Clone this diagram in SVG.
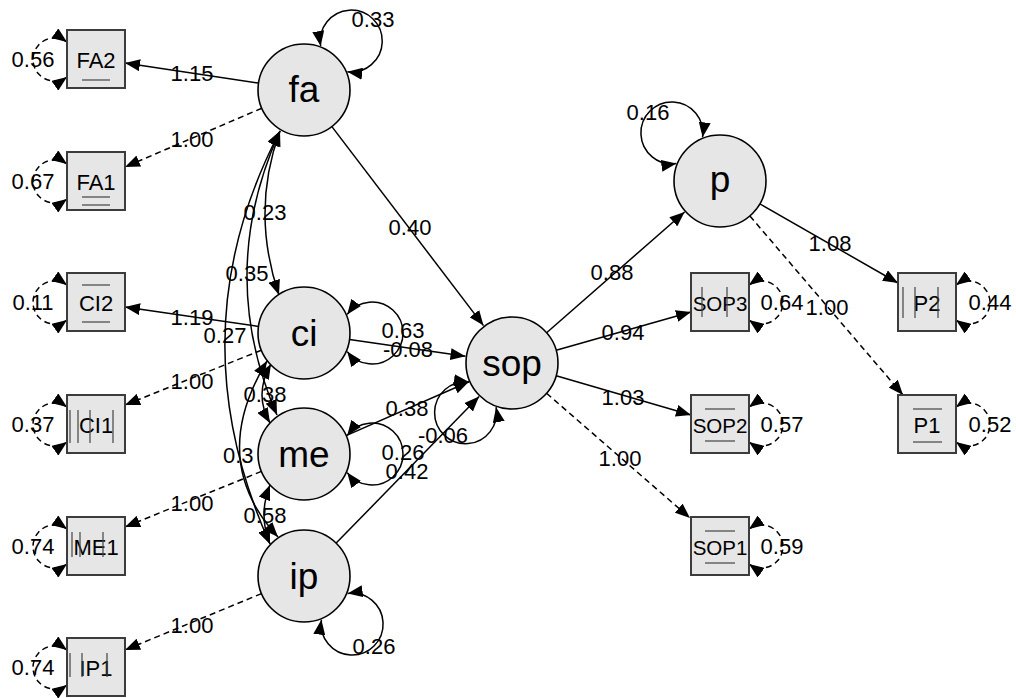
<svg xmlns="http://www.w3.org/2000/svg" width="1016" height="698" viewBox="0 0 1016 698">
  <defs>
    <marker id="ah" viewBox="0 0 15 12" refX="15" refY="6" markerWidth="15" markerHeight="12" markerUnits="userSpaceOnUse" orient="auto-start-reverse">
      <path d="M0,0 L15,6 L0,12 z" fill="#000"/>
    </marker>
    <style>
      .e { fill: none; stroke: #000; stroke-width: 1.5; marker-end: url(#ah); }
      .d { stroke-dasharray: 6 4; }
      .b { marker-start: url(#ah); }
      .lbl { font-family: "Liberation Sans", Arial, sans-serif; font-size: 22px; fill: #000; text-anchor: middle; }
      .lat circle { fill: #e6e6e6; stroke: #000; stroke-width: 1.6; }
      .lat text { font-family: "Liberation Sans", Arial, sans-serif; font-size: 37px; fill: #000; text-anchor: middle; }
      .man rect { fill: #e6e6e6; stroke: #3c3c3c; stroke-width: 2; }
      .man text { font-family: "Liberation Sans", Arial, sans-serif; font-size: 22px; fill: #000; text-anchor: middle; }
      .man text.s { font-size: 20.5px; }
      .man line { stroke: #444; stroke-width: 1.2; }
    </style>
  </defs>

  <rect width="1016" height="698" fill="#fff"/>

  <!-- connectors: loadings, regressions, covariances, variances -->
  <g id="connectors">
    <!-- loadings of the left-hand indicators -->
    <path class="e" d="M258.5 83.1 L125 63"/>
    <path class="e d" d="M261.8 108.2 L125 167"/>
    <path class="e" d="M258.5 326.4 L125 307"/>
    <path class="e d" d="M261.3 350.2 L125 405"/>
    <path class="e d" d="M261.4 471.4 L125 527"/>
    <path class="e d" d="M261.5 593.6 L125 650"/>

    <!-- structural paths into sop -->
    <path class="e" d="M331.9 126.6 L483.5 325.6"/>
    <path class="e" d="M349.5 339.6 L465.5 356.3"/>
    <path class="e" d="M346.1 435.6 L468.9 381.8"/>
    <path class="e" d="M336.2 543.1 L479.1 396.6"/>

    <!-- sop and p to their indicators -->
    <path class="e" d="M546.6 332.7 L684.6 212"/>
    <path class="e" d="M556.2 350.3 L691 312"/>
    <path class="e" d="M556.2 375.8 L691 415"/>
    <path class="e d" d="M546.6 393.3 L690 518"/>
    <path class="e" d="M759.9 203.9 L898 283"/>
    <path class="e d" d="M749.9 216 L903 395"/>

    <!-- covariances between exogenous factors -->
    <path class="e b" d="M280 131 Q250.5 211 279 295"/>
    <path class="e b" d="M280 131 Q215.5 273 277 415"/>
    <path class="e b" d="M280 131 Q175 332.5 270 544"/>
    <path class="e b" d="M271 364 Q253.5 394.5 270 423"/>
    <path class="e b" d="M267 361 Q207 460 278 537"/>
    <path class="e b" d="M270 485 Q258 515 270 544"/>

    <!-- latent variances -->
    <path class="e b" d="M320.65 46.05 A31 31 0 1 1 347.35 71.83"/>
    <path class="e b" d="M347.2 314.4 A31 31 0 1 1 347.2 351.6"/>
    <path class="e b" d="M347.2 435.4 A31 31 0 1 1 347.2 472.6"/>
    <path class="e b" d="M347.65 593.41 A31 31 0 1 1 321.41 619.65"/>
    <path class="e b" d="M676.35 163.59 A31 31 0 1 1 702.59 137.35"/>
    <path class="e b" d="M496.1 407.2 A31 31 0 1 1 469 381.9"/>

    <!-- residual variances, left indicators -->
    <path class="e b d" d="M67 42 A21.5 21.5 0 1 0 67 77"/>
    <path class="e b d" d="M67 164 A21.5 21.5 0 1 0 67 199"/>
    <path class="e b d" d="M67 285 A21.5 21.5 0 1 0 67 320"/>
    <path class="e b d" d="M67 407 A21.5 21.5 0 1 0 67 442"/>
    <path class="e b d" d="M67 529 A21.5 21.5 0 1 0 67 564"/>
    <path class="e b d" d="M67 650 A21.5 21.5 0 1 0 67 685"/>

    <!-- residual variances, right indicators -->
    <path class="e b d" d="M749 285 A21.5 21.5 0 1 1 749 320"/>
    <path class="e b d" d="M749 407 A21.5 21.5 0 1 1 749 442"/>
    <path class="e b d" d="M749 529 A21.5 21.5 0 1 1 749 564"/>
    <path class="e b d" d="M956 285 A21.5 21.5 0 1 1 956 320"/>
    <path class="e b d" d="M956 407 A21.5 21.5 0 1 1 956 442"/>
  </g>

  <!-- estimates -->
  <g id="edge-labels" class="lbl">
    <text x="373" y="27">0.33</text>
    <text x="192" y="81">1.15</text>
    <text x="192" y="147">1.00</text>
    <text x="192" y="325">1.19</text>
    <text x="192" y="389">1.00</text>
    <text x="192" y="511">1.00</text>
    <text x="192" y="633">1.00</text>

    <text x="265" y="220">0.23</text>
    <text x="247" y="281">0.35</text>
    <text x="225" y="343">0.27</text>
    <text x="265" y="402">0.38</text>
    <text x="223" y="463" style="text-anchor:start">0.3</text>
    <text x="265" y="523">0.58</text>

    <text x="410" y="235">0.40</text>
    <text x="403" y="338">0.63</text>
    <text x="408" y="357">-0.08</text>
    <text x="407" y="416">0.38</text>
    <text x="403" y="460">0.26</text>
    <text x="407" y="479">0.42</text>
    <text x="443" y="443">-0.06</text>
    <text x="374" y="654">0.26</text>

    <text x="648" y="120">0.16</text>
    <text x="612" y="280">0.88</text>
    <text x="623" y="340">0.94</text>
    <text x="623" y="405">1.03</text>
    <text x="620" y="466">1.00</text>
    <text x="830" y="251">1.08</text>
    <text x="827" y="315">1.00</text>

    <text x="33" y="67">0.56</text>
    <text x="33" y="189">0.67</text>
    <text x="33" y="310">0.11</text>
    <text x="33" y="432">0.37</text>
    <text x="33" y="554">0.74</text>
    <text x="33" y="675">0.74</text>

    <text x="782" y="310">0.64</text>
    <text x="782" y="432">0.57</text>
    <text x="782" y="554">0.59</text>
    <text x="990" y="310">0.44</text>
    <text x="990" y="432">0.52</text>
  </g>

  <!-- latent factors -->
  <g id="fa" class="lat"><circle cx="304" cy="90" r="46"/><text x="304" y="102">fa</text></g>
  <g id="ci" class="lat"><circle cx="304" cy="333" r="46"/><text x="304" y="346">ci</text></g>
  <g id="me" class="lat"><circle cx="304" cy="454" r="46"/><text x="304" y="467">me</text></g>
  <g id="ip" class="lat"><circle cx="304" cy="576" r="46"/><text x="304" y="589">ip</text></g>
  <g id="sop" class="lat"><circle cx="512" cy="363" r="46"/><text x="512" y="376">sop</text></g>
  <g id="p" class="lat"><circle cx="720" cy="181" r="46"/><text x="720" y="192">p</text></g>

  <!-- observed indicators -->
  <g id="FA2" class="man"><rect x="67" y="30" width="58" height="58"/><text x="96" y="68">FA2</text>
    <line x1="82" y1="80" x2="110" y2="80"/></g>
  <g id="FA1" class="man"><rect x="67" y="152" width="58" height="58"/><text x="96" y="190">FA1</text>
    <line x1="82" y1="197" x2="110" y2="197"/><line x1="82" y1="205" x2="110" y2="205"/></g>
  <g id="CI2" class="man"><rect x="67" y="273" width="58" height="58"/><text x="96" y="311">CI2</text>
    <line x1="82" y1="285" x2="110" y2="285"/><line x1="82" y1="322" x2="110" y2="322"/></g>
  <g id="CI1" class="man"><rect x="67" y="395" width="58" height="58"/><text x="96" y="433">CI1</text>
    <line x1="70" y1="410" x2="70" y2="443"/><line x1="78" y1="410" x2="78" y2="443"/><line x1="90" y1="410" x2="90" y2="443"/><line x1="113" y1="410" x2="113" y2="443"/></g>
  <g id="ME1" class="man"><rect x="67" y="517" width="58" height="58"/><text x="96" y="555">ME1</text>
    <line x1="72" y1="532" x2="72" y2="557"/><line x1="80" y1="532" x2="80" y2="557"/><line x1="103" y1="532" x2="103" y2="557"/></g>
  <g id="IP1" class="man"><rect x="67" y="638" width="58" height="58"/><text x="96" y="676">IP1</text>
    <line x1="70" y1="653" x2="70" y2="677"/><line x1="82" y1="653" x2="82" y2="677"/><line x1="107" y1="653" x2="107" y2="677"/></g>

  <g id="SOP3" class="man"><rect x="691" y="273" width="58" height="58"/><text class="s" x="720" y="311">SOP3</text>
    <line x1="702" y1="287" x2="702" y2="317"/><line x1="727" y1="287" x2="727" y2="317"/></g>
  <g id="SOP2" class="man"><rect x="691" y="395" width="58" height="58"/><text class="s" x="720" y="433">SOP2</text>
    <line x1="705" y1="409" x2="735" y2="409"/><line x1="705" y1="441" x2="735" y2="441"/></g>
  <g id="SOP1" class="man"><rect x="691" y="517" width="58" height="58"/><text class="s" x="720" y="555">SOP1</text>
    <line x1="705" y1="531" x2="735" y2="531"/><line x1="705" y1="563" x2="735" y2="563"/></g>
  <g id="P2" class="man"><rect x="898" y="273" width="58" height="58"/><text x="927" y="311">P2</text>
    <line x1="903" y1="287" x2="903" y2="318"/><line x1="915" y1="287" x2="915" y2="318"/><line x1="938" y1="287" x2="938" y2="318"/></g>
  <g id="P1" class="man"><rect x="898" y="395" width="58" height="58"/><text x="927" y="433">P1</text>
    <line x1="913" y1="409" x2="942" y2="409"/><line x1="913" y1="442" x2="942" y2="442"/></g>
</svg>
